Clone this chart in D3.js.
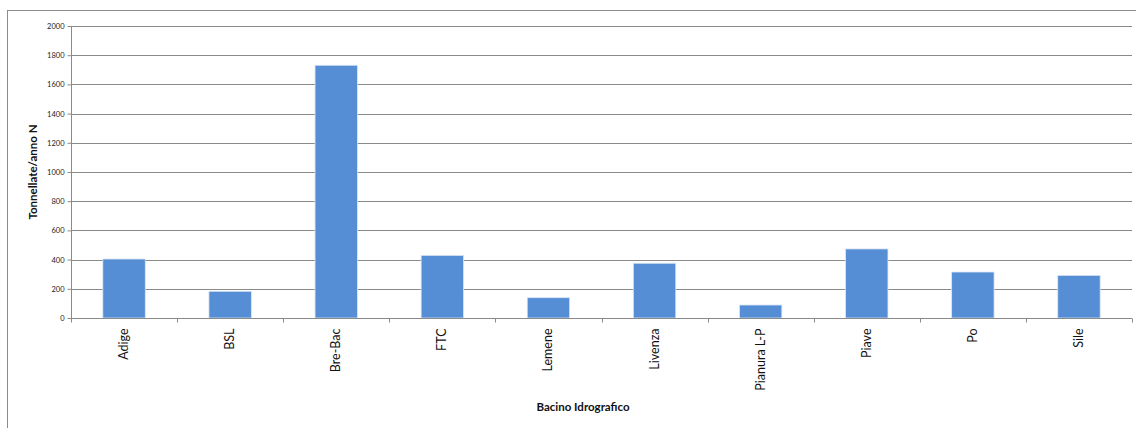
<!DOCTYPE html>
<html>
<head>
<meta charset="utf-8">
<script src="https://cdn.jsdelivr.net/npm/d3@7"></script>
<style>
  html, body { margin: 0; padding: 0; background: #fff; }
  svg { display: block; font-family: Lato, "Open Sans", "Liberation Sans", sans-serif; }
</style>
</head>
<body>
<svg id="chart" width="1136" height="428"></svg>
<script>
// Nitrogen load per river basin (tonnes/year N)
const categories = ["Adige", "BSL", "Bre-Bac", "FTC", "Lemene", "Livenza", "Pianura L-P", "Piave", "Po", "Sile"];
const values = [404, 183, 1731, 429, 139, 375, 89, 473, 315, 292];
const yTicks = [0, 200, 400, 600, 800, 1000, 1200, 1400, 1600, 1800, 2000];

const svg = d3.select("#chart");
const plot = { left: 71, right: 1132, top: 26, bottom: 318 };

// outer chart frame
svg.append("rect")
  .attr("x", 7.5).attr("y", 10.5)
  .attr("width", 1140).attr("height", 430)
  .attr("fill", "none").attr("stroke", "#8c8c8c").attr("stroke-width", 1);

const x = d3.scaleBand().domain(categories).range([plot.left, plot.right]).paddingInner(0.6).paddingOuter(0.3);
const xb = d3.scaleBand().domain(categories).range([plot.left, plot.right]);
const y = d3.scaleLinear().domain([0, 2000]).range([plot.bottom, plot.top]);

// horizontal gridlines
svg.append("g").selectAll("line").data(yTicks.filter(d => d > 0)).join("line")
  .attr("x1", plot.left).attr("x2", plot.right)
  .attr("y1", d => Math.round(y(d)) + 0.5).attr("y2", d => Math.round(y(d)) + 0.5)
  .attr("stroke", "#8a8a8a").attr("stroke-width", 1);

// bars
svg.append("g").selectAll("rect").data(values).join("rect")
  .attr("x", (d, i) => x(categories[i]))
  .attr("width", x.bandwidth())
  .attr("y", d => y(d))
  .attr("height", d => y(0) - y(d))
  .attr("fill", "#558ed5")
  .attr("stroke", "#dbe6f4").attr("stroke-width", 0.8);

// y axis
const yAxis = svg.append("g")
  .attr("transform", `translate(${plot.left + 0.5},0)`)
  .call(d3.axisLeft(y).tickValues(yTicks).tickFormat(d3.format("d")).tickSize(4).tickPadding(3));
yAxis.select(".domain").attr("stroke", "#8a8a8a").attr("d", `M0,${plot.top}V${plot.bottom}`);
yAxis.selectAll(".tick line").attr("stroke", "#8a8a8a");
yAxis.selectAll("text").attr("font-size", 7.5).attr("fill", "#222").attr("font-family", "Lato, sans-serif");

// x axis with ticks on band boundaries
const xAxisG = svg.append("g").attr("transform", `translate(0,${plot.bottom + 0.5})`);
xAxisG.append("line").attr("x1", plot.left).attr("x2", plot.right)
  .attr("stroke", "#8a8a8a");
xAxisG.selectAll("line.tk").data(categories.concat(["_end"])).join("line").attr("class", "tk")
  .attr("x1", (d, i) => Math.round(plot.left + i * xb.step()) + 0.5)
  .attr("x2", (d, i) => Math.round(plot.left + i * xb.step()) + 0.5)
  .attr("y1", 0).attr("y2", 4)
  .attr("stroke", "#8a8a8a");
xAxisG.selectAll("text").data(categories).join("text")
  .attr("transform", d => `translate(${xb(d) + xb.bandwidth() / 2 + 4},10) rotate(-90)`)
  .attr("text-anchor", "end")
  .attr("font-size", 12.5)
  .attr("fill", "#111")
  .text(d => d);

// axis titles
svg.append("text")
  .attr("transform", `translate(37,172) rotate(-90)`)
  .attr("text-anchor", "middle")
  .attr("font-size", 11.5).attr("font-weight", "bold").attr("fill", "#111")
  .text("Tonnellate/anno N");

svg.append("text")
  .attr("x", 583).attr("y", 411)
  .attr("text-anchor", "middle")
  .attr("font-size", 11.5).attr("font-weight", "bold").attr("fill", "#111")
  .text("Bacino Idrografico");
</script>
</body>
</html>
